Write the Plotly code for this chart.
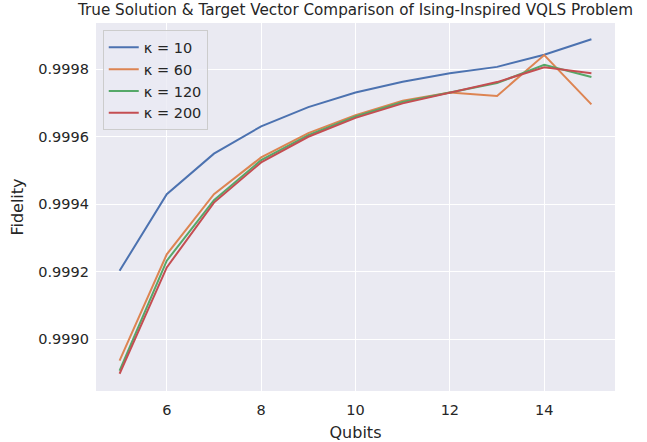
import plotly.graph_objects as go

qubits = [5, 6, 7, 8, 9, 10, 11, 12, 13, 14, 15]
fid_k10 = [0.999203, 0.999430, 0.999550, 0.999631, 0.999688, 0.999731, 0.999763, 0.999788, 0.999807, 0.999843, 0.999889]
fid_k60 = [0.998937, 0.999252, 0.999430, 0.999539, 0.999611, 0.999664, 0.999707, 0.999731, 0.999721, 0.999842, 0.999696]
fid_k120 = [0.998907, 0.999233, 0.999412, 0.999531, 0.999605, 0.999660, 0.999703, 0.999731, 0.999759, 0.999813, 0.999777]
fid_k200 = [0.998898, 0.999213, 0.999405, 0.999524, 0.999600, 0.999656, 0.999699, 0.999731, 0.999762, 0.999806, 0.999788]
labels = ["κ = 10", "κ = 60", "κ = 120", "κ = 200"]
colors = ["#4C72B0", "#DD8452", "#55A868", "#C44E52"]

fig = go.Figure()
for name, ys, c in zip(labels, [fid_k10, fid_k60, fid_k120, fid_k200], colors):
    fig.add_trace(go.Scatter(x=qubits, y=ys, mode="lines", name=name,
                             line=dict(color=c, width=2)))

font_family = "DejaVu Sans"
fig.update_layout(
    width=647, height=442,
    margin=dict(l=96, r=32, t=23, b=51),
    paper_bgcolor="white",
    plot_bgcolor="#EAEAF2",
    font=dict(family=font_family, color="#262626", size=14.5),
    title=dict(text="True Solution & Target Vector Comparison of Ising-Inspired VQLS Problem",
               x=0.5, xref="paper", xanchor="center",
               y=1 - 10 / 442, yref="container", yanchor="middle",
               font=dict(size=15.2, color="#262626")),
    showlegend=True,
    legend=dict(x=0.013, y=0.98, xanchor="left", yanchor="top",
                bgcolor="rgba(234,234,242,0.8)", bordercolor="#CCCCCC", borderwidth=1,
                font=dict(size=14.5), tracegroupgap=0, itemwidth=30),
    xaxis=dict(range=[4.5, 15.5], tickvals=[6, 8, 10, 12, 14],
               showgrid=True, gridcolor="white", gridwidth=1.2, zeroline=False,
               showline=False, ticks="", ticklabelstandoff=8, automargin=False,
               title=dict(text="Qubits", font=dict(size=16))),
    yaxis=dict(range=[0.998847, 0.999937],
               tickvals=[0.9990, 0.9992, 0.9994, 0.9996, 0.9998],
               tickformat=".4f",
               showgrid=True, gridcolor="white", gridwidth=1.2, zeroline=False,
               showline=False, ticks="", ticklabelstandoff=6, automargin=False,
               title=dict(text="Fidelity", font=dict(size=16), standoff=10)),
)

fig.write_html("out.html", config={"displayModeBar": False},
               post_script="document.body.style.margin='0';document.body.style.overflow='hidden';")
